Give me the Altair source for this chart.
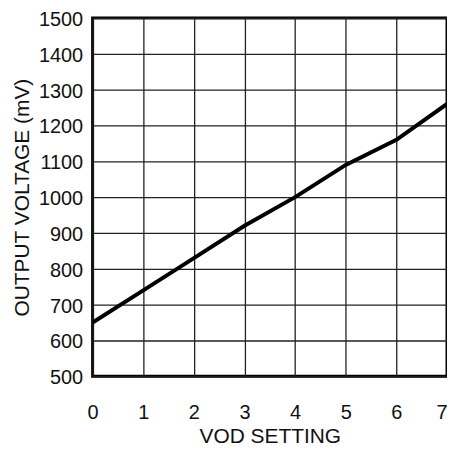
import altair as alt
import pandas as pd

vod = [0, 1, 2, 3, 4, 5, 6, 7]
mv = [650, 740, 830, 920, 1000, 1090, 1160, 1260]
x_ticks = [0, 1, 2, 3, 4, 5, 6, 7]
y_ticks = [500, 600, 700, 800, 900, 1000, 1100, 1200, 1300, 1400, 1500]

df = pd.DataFrame({"vod": vod, "mv": mv})

font = "Liberation Sans"

chart = alt.Chart(df).mark_line(color="black", strokeWidth=4, clip=True).encode(
    x=alt.X("vod:Q", scale=alt.Scale(domain=[0, 7], nice=False),
            axis=alt.Axis(values=x_ticks, title="VOD SETTING", grid=True, domain=False, ticks=False,
                          labelPadding=42, labelBaseline="alphabetic", titleY=60, titleBaseline="middle",
                          labelFlush=False, format="d",
                          labelAlign=alt.expr("datum.value == 7 ? 'right' : 'center'"))),
    y=alt.Y("mv:Q", scale=alt.Scale(domain=[500, 1500], nice=False),
            axis=alt.Axis(values=y_ticks, title="OUTPUT VOLTAGE (mV)", grid=True, domain=False, ticks=False,
                          labelPadding=10, labelOffset=1.5, titleX=-70, titleY=180, titleBaseline="middle",
                          titleAngle=270, format="d"))
).properties(
    width=356, height=360,
    autosize=alt.AutoSizeParams(type="none"),
    padding={"left": 85, "top": 9, "right": 0, "bottom": 72}
).configure_view(
    stroke="black", strokeWidth=3
).configure_axis(
    gridColor="#222", gridWidth=1.3, gridOpacity=1,
    labelFont=font, labelFontSize=20, labelColor="#111",
    titleFont=font, titleFontSize=21, titleFontWeight="normal", titleColor="#111"
)

chart.save("out.html", embed_options={"renderer": "svg", "actions": False})
